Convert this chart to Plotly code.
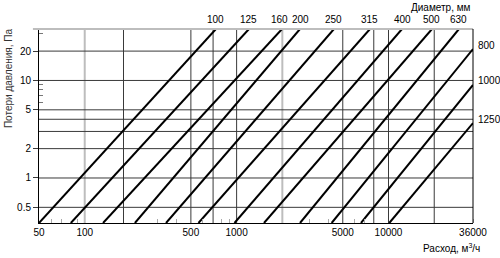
import math
import plotly.graph_objects as go

# ---- data ----
diameters = [100, 125, 160, 200, 250, 315, 400, 500, 630, 800, 1000, 1250]
# flow (m3/h) where each line meets the bottom edge of the chart
q_bottom = [50, 81, 132, 214, 343, 561, 968, 1515, 2615, 4225, 6590, 10120]
# flow / pressure where each line leaves the chart (top or right edge)
q_end = [731, 1206, 1990, 2613, 4375, 7550, 12270, 19330, 29100, 36000, 36000, 36000]
dp_end = [33.7, 33.7, 33.7, 33.7, 33.7, 33.7, 33.7, 33.7, 33.7, 21.0, 9.0, 3.66]

x_ticks = [50, 100, 500, 1000, 5000, 10000, 36000]
y_ticks = [0.5, 1, 2, 5, 10, 20]
x_grid_dark = [180, 500, 700, 1000, 5000, 8000, 10000, 20000]
x_grid_light = [100, 2000]
y_grid = [0.5, 1, 2, 3, 4, 5, 10, 20]
x_minor = [60, 70, 90, 300, 400, 600, 800, 900, 3000, 4000, 6000, 7000, 36000]
y_minor = [6, 7, 8, 9, 30]

X_MIN, X_MAX = 50, 36000
Y_MIN, Y_MAX = 0.3455, 33.7

FONT = "Arial, Liberation Sans, sans-serif"
label_nudge = {160: -3, 200: 1}

fig = go.Figure()

def add_lines(xs_pairs, ys_pairs, color, width):
    xs, ys = [], []
    for (xa, xb), (ya, yb) in zip(xs_pairs, ys_pairs):
        xs += [xa, xb, None]
        ys += [ya, yb, None]
    fig.add_trace(go.Scatter(x=xs, y=ys, mode="lines", hoverinfo="skip",
                             line=dict(color=color, width=width), showlegend=False))

# grid
add_lines([(v, v) for v in x_grid_light], [(Y_MIN, Y_MAX)] * len(x_grid_light), "#bdbdbd", 2)
add_lines([(v, v) for v in x_grid_dark], [(Y_MIN, Y_MAX)] * len(x_grid_dark), "#3a3a3a", 1)
add_lines([(X_MIN, X_MAX)] * len(y_grid), [(v, v) for v in y_grid], "#3a3a3a", 1)

# diameter lines
for d, qb, qe, de in zip(diameters, q_bottom, q_end, dp_end):
    fig.add_trace(go.Scatter(x=[qb, qe], y=[Y_MIN, de], mode="lines", name=str(d),
                             line=dict(color="black", width=2), showlegend=False))

ann = []
for d, qe, de in zip(diameters, q_end, dp_end):
    if de >= Y_MAX - 0.01:
        ann.append(dict(x=math.log10(qe), y=1, xref="x", yref="paper", text=str(d),
                        showarrow=False, xanchor="center", yanchor="bottom", yshift=2,
                        xshift=label_nudge.get(d, 0),
                        font=dict(size=10, color="black", family=FONT)))
    else:
        ann.append(dict(x=1, y=math.log10(de), xref="paper", yref="y", text=str(d),
                        showarrow=False, xanchor="left", yanchor="middle", xshift=3, yshift=4,
                        font=dict(size=10, color="black", family=FONT)))

ann.append(dict(x=1, y=1, xref="paper", yref="paper", text="Диаметр, мм", showarrow=False,
                xanchor="right", yanchor="bottom", yshift=14,
                font=dict(size=10, color="black", family=FONT)))
ann.append(dict(x=1.02, y=0, xref="paper", yref="paper", text="Расход, м<sup>3</sup>/ч",
                showarrow=False, xanchor="right", yanchor="top", yshift=-17,
                font=dict(size=10, color="black", family=FONT)))
ann.append(dict(x=-0.0714, y=0.747, xref="paper", yref="paper", text="Потери давления, Па",
                showarrow=False, textangle=-90, xanchor="center", yanchor="middle",
                font=dict(size=10, color="#333333", family=FONT)))

shapes = [
    dict(type="line", xref="paper", yref="paper", x0=-0.014, x1=1, y0=1, y1=1,
         line=dict(color="#bdbdbd", width=2)),
    dict(type="line", xref="paper", yref="paper", x0=1, x1=1, y0=0, y1=1,
         line=dict(color="black", width=1)),
]

fig.update_layout(
    width=500, height=258,
    margin=dict(l=39, r=27, t=29, b=35),
    paper_bgcolor="white", plot_bgcolor="white",
    annotations=ann, shapes=shapes,
    font=dict(family=FONT, size=10, color="black"),
    xaxis=dict(type="log", range=[math.log10(X_MIN), math.log10(X_MAX)],
               tickmode="array", tickvals=x_ticks, ticktext=[str(v) for v in x_ticks],
               showgrid=False, zeroline=False, showline=True, linecolor="black", linewidth=1,
               ticks="", tickfont=dict(size=10, family=FONT, color="black"),
               minor=dict(tickmode="array", tickvals=x_minor, ticks="inside", ticklen=4,
                          tickcolor="#aaaaaa", tickwidth=1, showgrid=False)),
    yaxis=dict(type="log", range=[math.log10(Y_MIN), math.log10(Y_MAX)],
               tickmode="array", tickvals=y_ticks, ticktext=[str(v) for v in y_ticks],
               showgrid=False, zeroline=False, showline=True, linecolor="black", linewidth=1,
               ticks="outside", ticklen=5, tickcolor="#3a3a3a", tickwidth=1,
               tickfont=dict(size=10, family=FONT, color="black"),
               minor=dict(tickmode="array", tickvals=y_minor, ticks="inside", ticklen=4,
                          tickcolor="#777777", tickwidth=1, showgrid=False)),
)

fig.write_html("out.html")
